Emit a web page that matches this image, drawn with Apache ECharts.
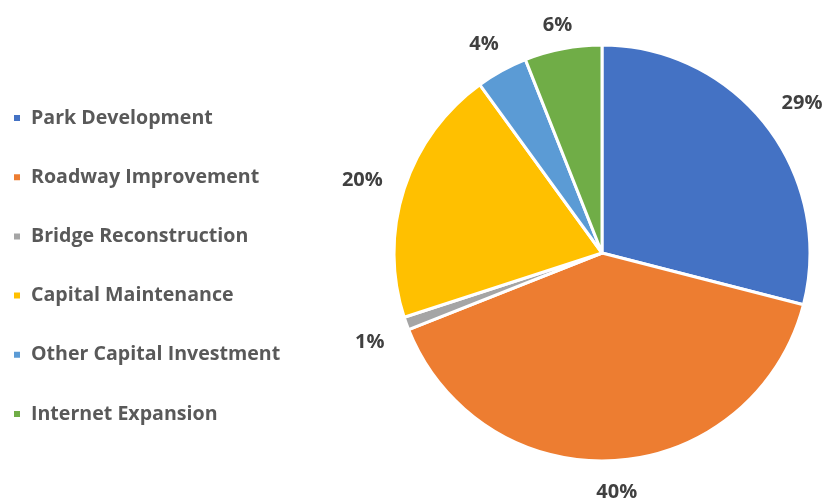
<!DOCTYPE html>
<html>
<head>
<meta charset="utf-8">
<script src="https://cdn.jsdelivr.net/npm/echarts@6/dist/echarts.min.js"></script>
<style>
  html, body { margin: 0; padding: 0; background: #fff; }
  #chart { width: 827px; height: 500px; }
</style>
</head>
<body>
<div id="chart"></div>
<script>
// Capital budget shares by program (percent)
const categories = [
  'Park Development',
  'Roadway Improvement',
  'Bridge Reconstruction',
  'Capital Maintenance',
  'Other Capital Investment',
  'Internet Expansion'
];
const shares = [29, 40, 1, 20, 4, 6];
const colors = ['#4472C4', '#ED7D31', '#A5A5A5', '#FFC000', '#5B9BD5', '#70AD47'];

const FONT = '"Open Sans", "Liberation Sans", sans-serif';
const CX = 602, CY = 253;   // pie centre
const R = 208;              // pie radius
const GAP_X = 18;           // horizontal clearance between rim and label box
const GAP_Y = 14;           // vertical clearance between rim and label box
const LABEL_DY = 5.5;       // nudge labels down so the digits sit optically centred

const pieData = categories.map((name, i) => ({
  name,
  value: shares[i],
  itemStyle: { color: colors[i] }
}));

const chart = echarts.init(document.getElementById('chart'), null, { renderer: 'canvas' });
chart.setOption({
  animation: false,
  color: colors,
  legend: {
    orient: 'vertical',
    left: 7,
    top: 103,
    icon: 'rect',
    itemWidth: 8,
    itemHeight: 8,
    itemGap: 39.2,
    data: categories,
    selectedMode: false,
    textStyle: {
      fontFamily: FONT,
      fontWeight: 'bold',
      fontSize: 19.6,
      lineHeight: 20,
      color: '#595959',
      padding: [0, 0, 0, 5]
    }
  },
  series: [
    {
      type: 'pie',
      center: [CX, CY],
      radius: [0, R],
      startAngle: 90,
      clockwise: true,
      data: pieData,
      itemStyle: { borderColor: '#fff', borderWidth: 3 },
      label: {
        show: true,
        position: 'inside',
        formatter: p => p.value + '%',
        fontFamily: FONT,
        fontWeight: 'bold',
        fontSize: 20,
        color: '#404040'
      },
      labelLine: { show: false },
      // push each percent label out along its slice's bisector,
      // keeping its box a set distance beyond the rim
      labelLayout: function (params) {
        const r = params.labelRect;
        const lx = r.x + r.width / 2, ly = r.y + r.height / 2;
        const dx = lx - CX, dy = ly - CY;
        const d = Math.hypot(dx, dy) || 1;
        const ux = dx / d, uy = dy / d;
        const dist = R
          + Math.abs(ux) * (GAP_X + r.width / 2)
          + Math.abs(uy) * (GAP_Y + r.height / 2);
        return {
          x: CX + ux * dist,
          y: CY + uy * dist + LABEL_DY,
          align: 'center',
          verticalAlign: 'middle'
        };
      },
      emphasis: { disabled: true }
    }
  ]
});
</script>
</body>
</html>
